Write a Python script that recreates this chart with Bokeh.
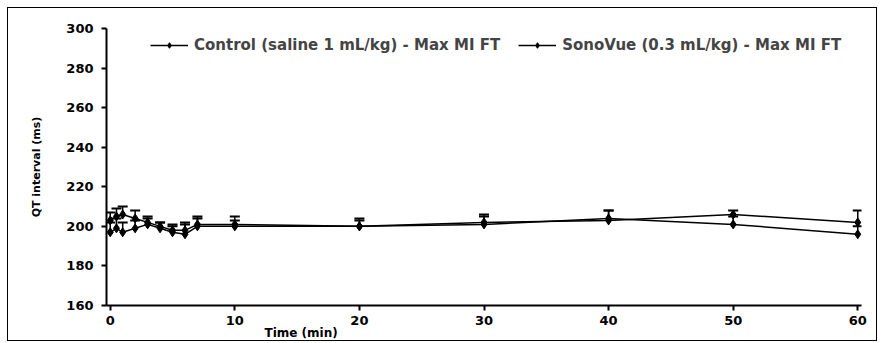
from bokeh.plotting import figure
from bokeh.models import Range1d, Whisker, TeeHead, ColumnDataSource, Legend, LegendItem, Title, FixedTicker
from bokeh.embed import file_html
from bokeh.resources import INLINE

# Data
time_min = [0, 0.5, 1, 2, 3, 4, 5, 6, 7, 10, 20, 30, 40, 50, 60]
control = [203, 205, 206, 204, 202, 200, 198, 198, 201, 201, 200, 201, 204, 201, 196]
control_err = [4, 4, 4, 4, 3, 2, 3, 4, 4, 4, 4, 4, 4, 4, 4]
sonovue = [197, 199, 197, 199, 201, 199, 197, 196, 200, 200, 200, 202, 203, 206, 202]
sonovue_err = [5, 5, 5, 4, 3, 3, 3, 5, 4, 3, 3, 4, 5, 2, 6]
y_ticks = [160, 180, 200, 220, 240, 260, 280, 300]
x_ticks = [0, 10, 20, 30, 40, 50, 60]
series_names = ["Control (saline 1 mL/kg) - Max MI FT", "SonoVue (0.3 mL/kg) - Max MI FT"]

FONT = "DejaVu Sans"

p = figure(width=870, height=334, output_backend="svg", toolbar_location=None,
           x_range=Range1d(-0.3, 60.3), y_range=Range1d(160, 300),
           min_border_left=98, min_border_right=17, min_border_top=20, min_border_bottom=37)
p.styles = {"border": "1px solid black", "box-sizing": "border-box", "margin-left": "7px", "margin-top": "7px"}
p.outline_line_color = None
p.xgrid.visible = False
p.ygrid.visible = False

for ax in (p.xaxis, p.yaxis):
    ax.axis_line_width = 2
    ax.major_tick_line_width = 2
    ax.major_tick_out = 5
    ax.major_tick_in = 0
    ax.minor_tick_line_color = None
    ax.major_label_text_font = FONT
    ax.major_label_text_font_style = "bold"
    ax.major_label_text_font_size = "13px"
    ax.major_label_text_color = "black"
    ax.axis_line_color = "black"
    ax.major_tick_line_color = "black"

p.xaxis.ticker = FixedTicker(ticks=x_ticks)
p.yaxis.ticker = FixedTicker(ticks=y_ticks)
p.xaxis.major_label_standoff = 5
p.yaxis.major_label_standoff = 8
p.yaxis.axis_label = "QT interval (ms)"
p.yaxis.axis_label_text_font = FONT
p.yaxis.axis_label_text_font_style = "bold"
p.yaxis.axis_label_text_font_size = "11px"
p.yaxis.axis_label_text_color = "black"
p.yaxis.axis_label_standoff = 20

items = []
for vals, errs, name in ((control, control_err, series_names[0]), (sonovue, sonovue_err, series_names[1])):
    src = ColumnDataSource(dict(x=time_min, y=vals,
                                up=[v + e for v, e in zip(vals, errs)]))
    w = Whisker(source=src, base="x", upper="up", lower="y", dimension="height",
                line_color="black", line_width=1.5,
                upper_head=TeeHead(size=10, line_color="black", line_width=2), lower_head=None)
    p.add_layout(w)
    l = p.line("x", "y", source=src, line_color="black", line_width=1.5)
    s = p.scatter("x", "y", source=src, marker="diamond", size=9, color="black")
    items.append(LegendItem(label=name, renderers=[l, s]))

legend = Legend(items=items, orientation="horizontal", location=(44, 251),
                label_text_font=FONT, label_text_font_style="bold", label_text_font_size="15px",
                glyph_width=38, glyph_height=14, spacing=18, padding=0, margin=0,
                border_line_color=None, background_fill_alpha=0, label_standoff=6)
p.add_layout(legend)

xlabel = Title(text="Time (min)", align="left", offset=158, standoff=-8,
               text_font=FONT, text_font_style="bold", text_font_size="12px", text_color="black")
p.add_layout(xlabel, "below")

open("out.html", "w").write(file_html(p, INLINE))
